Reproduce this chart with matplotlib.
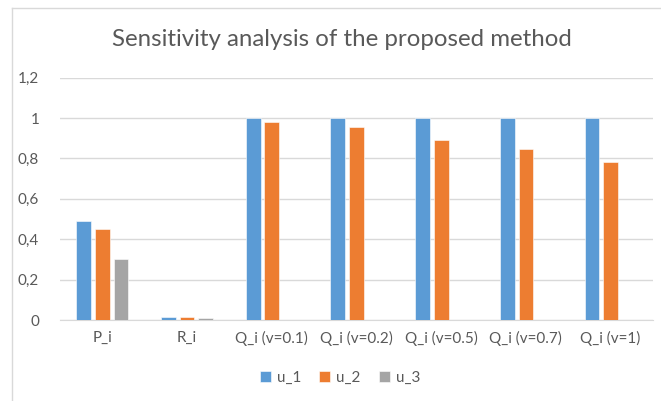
import matplotlib
matplotlib.use("Agg")
import matplotlib.pyplot as plt
import numpy as np
from matplotlib.lines import Line2D

categories = ["P_i", "R_i", "Q_i (v=0.1)", "Q_i (v=0.2)", "Q_i (v=0.5)", "Q_i (v=0.7)", "Q_i (v=1)"]
u_1 = [0.489, 0.017, 1.0, 1.0, 1.0, 1.0, 1.0]
u_2 = [0.449, 0.017, 0.979, 0.957, 0.891, 0.848, 0.782]
u_3 = [0.302, 0.008, 0, 0, 0, 0, 0]
series_names = ["u_1", "u_2", "u_3"]
colors = ["#5B9BD5", "#ED7D31", "#A5A5A5"]
yticks = [0, 0.2, 0.4, 0.6, 0.8, 1.0, 1.2]
ytick_labels = ["0", "0,2", "0,4", "0,6", "0,8", "1", "1,2"]

plt.rcParams['font.family'] = ['Lato', 'DejaVu Sans']
fig = plt.figure(figsize=(6.61, 4.01), dpi=100)
ax = fig.add_axes([60/661, 81/401, 593/661, 242.4/401])

x = np.arange(len(categories))
w = 0.175
step = 0.22
for i, (vals, name, c) in enumerate(zip([u_1, u_2, u_3], series_names, colors)):
    ax.bar(x + (i - 1) * step, vals, width=w, color=c, label=name, zorder=3,
           edgecolor='white', linewidth=0.4)

ax.set_xlim(-0.5, len(categories) - 0.5)
ax.set_ylim(0, 1.2)
ax.set_yticks(yticks)
ax.set_yticklabels(ytick_labels)
ax.set_xticks(x)
ax.set_xticklabels(categories)
ax.grid(axis='y', color='#D9D9D9', linewidth=1, zorder=0)
for s in ['top', 'right', 'left']:
    ax.spines[s].set_visible(False)
ax.spines['bottom'].set_color('#D9D9D9')
ax.tick_params(axis='both', length=0, colors='#595959', labelsize=11)
ax.tick_params(axis='y', pad=15)
ax.tick_params(axis='x', pad=8)

fig.text(341.5/661, 1 - 40/401, "Sensitivity analysis of the proposed method",
         ha='center', va='center', fontsize=17.3, color='#595959')

leg = fig.legend(loc='center', bbox_to_anchor=(340/661, 1 - 378/401), ncol=3,
                 frameon=False, fontsize=11, handlelength=0.7, handleheight=0.7,
                 handletextpad=0.4, columnspacing=1.2, labelcolor='#595959')

fig.add_artist(Line2D([12/661, 1], [1 - 8/401, 1 - 8/401], transform=fig.transFigure,
                      color='#D9D9D9', linewidth=1))
fig.add_artist(Line2D([12/661, 12/661], [0, 1 - 8/401], transform=fig.transFigure,
                      color='#D9D9D9', linewidth=1))
fig.savefig("out.png", dpi=100)
